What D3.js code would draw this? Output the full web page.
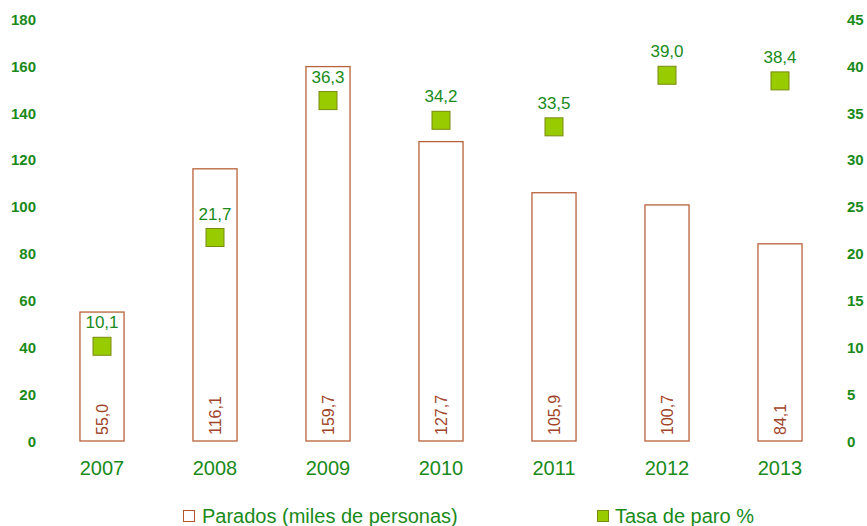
<!DOCTYPE html>
<html>
<head>
<meta charset="utf-8">
<script src="https://cdn.jsdelivr.net/npm/d3@7"></script>
<style>
body { margin: 0; background: #fff; }
text { font-family: "Liberation Sans", Arial, sans-serif; }
</style>
</head>
<body>
<svg></svg>
<script>
var years = ['2007', '2008', '2009', '2010', '2011', '2012', '2013'];
var parados = [55.0, 116.1, 159.7, 127.7, 105.9, 100.7, 84.1];
var tasa = [10.1, 21.7, 36.3, 34.2, 33.5, 39.0, 38.4];
var leftTicks = [0, 20, 40, 60, 80, 100, 120, 140, 160, 180];
var rightTicks = [0, 5, 10, 15, 20, 25, 30, 35, 40, 45];

var svgWidth = 867, svgHeight = 526;
var green = '#1a8a1a', brown = '#b5572d';
var fmt = function(d) { return d.toFixed(1).replace('.', ','); };

var svg = d3.select('svg')
    .attr('width', svgWidth)
    .attr('height', svgHeight);

var x = d3.scaleBand().domain(years).range([45.5, 836.5]).paddingInner(0.61).paddingOuter(0.305);
var yL = d3.scaleLinear().domain([0, 180]).range([441, 19]);
var yR = d3.scaleLinear().domain([0, 45]).range([441, 19]);

// left axis
var leftAxis = svg.append('g')
    .attr('transform', 'translate(36,0)')
    .call(d3.axisLeft(yL).tickValues(leftTicks).tickSize(0).tickPadding(0));
leftAxis.select('.domain').remove();
leftAxis.selectAll('text')
    .attr('fill', green).style('font-size', '15px').style('font-weight', 'bold')
    .attr('dy', '0.35em');

// right axis
var rightAxis = svg.append('g')
    .attr('transform', 'translate(847,0)')
    .call(d3.axisRight(yR).tickValues(rightTicks).tickSize(0).tickPadding(0));
rightAxis.select('.domain').remove();
rightAxis.selectAll('text')
    .attr('fill', green).style('font-size', '15px').style('font-weight', 'bold')
    .attr('dy', '0.35em');

// x axis labels
var xAxis = svg.append('g')
    .attr('transform', 'translate(0,475)')
    .call(d3.axisBottom(x).tickSize(0).tickPadding(0));
xAxis.select('.domain').remove();
xAxis.selectAll('text')
    .attr('fill', green).style('font-size', '20px').attr('dy', '0');

// bars
svg.selectAll('rect.bar')
    .data(parados)
    .enter()
    .append('rect')
    .attr('class', 'bar')
    .attr('x', function(d, i) { return x(years[i]); })
    .attr('y', function(d) { return yL(d); })
    .attr('width', x.bandwidth())
    .attr('height', function(d) { return yL(0) - yL(d); })
    .attr('fill', '#fff')
    .attr('stroke', '#b8623a')
    .attr('stroke-width', 1.3);

// bar labels
svg.selectAll('text.barlabel')
    .data(parados)
    .enter()
    .append('text')
    .attr('class', 'barlabel')
    .attr('transform', function(d, i) {
        return 'translate(' + (x(years[i]) + x.bandwidth() / 2 + 5.5) + ',' + (yL(0) - 6) + ') rotate(-90)';
    })
    .attr('fill', '#a0442a')
    .style('font-size', '16px')
    .text(fmt);

// markers
svg.selectAll('rect.marker')
    .data(tasa)
    .enter()
    .append('rect')
    .attr('class', 'marker')
    .attr('x', function(d, i) { return x(years[i]) + x.bandwidth() / 2 - 9; })
    .attr('y', function(d) { return yR(d) - 9; })
    .attr('width', 18)
    .attr('height', 18)
    .attr('fill', '#99cc00')
    .attr('stroke', '#7a8a10')
    .attr('stroke-width', 1);

svg.selectAll('text.marklabel')
    .data(tasa)
    .enter()
    .append('text')
    .attr('class', 'marklabel')
    .attr('x', function(d, i) { return x(years[i]) + x.bandwidth() / 2; })
    .attr('y', function(d) { return yR(d) - 18; })
    .attr('text-anchor', 'middle')
    .attr('fill', green)
    .style('font-size', '17px')
    .text(fmt);

// legend
var legend = svg.append('g');
legend.append('rect').attr('x', 183.5).attr('y', 510.5).attr('width', 11).attr('height', 11)
    .attr('fill', '#fff').attr('stroke', brown);
legend.append('text').attr('x', 202).attr('y', 523).attr('fill', green)
    .style('font-size', '20px').text('Parados (miles de personas)');
legend.append('rect').attr('x', 597.5).attr('y', 510.5).attr('width', 11).attr('height', 11)
    .attr('fill', '#99cc00').attr('stroke', '#7a8a10');
legend.append('text').attr('x', 615).attr('y', 523).attr('fill', green)
    .style('font-size', '20px').text('Tasa de paro %');
</script>
</body>
</html>
